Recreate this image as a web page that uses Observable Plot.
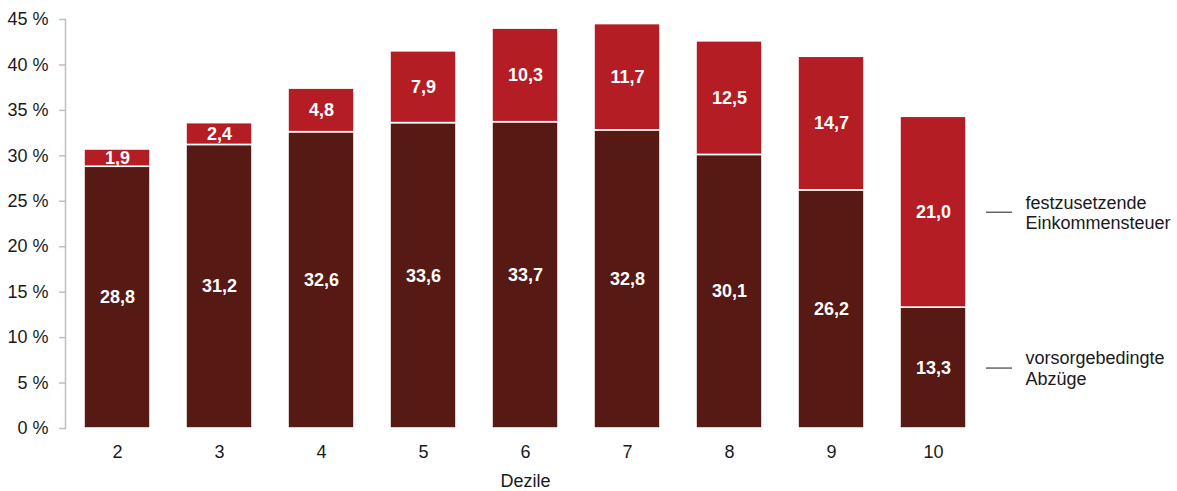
<!DOCTYPE html>
<html>
<head>
<meta charset="utf-8">
<script src="https://cdn.jsdelivr.net/npm/d3@7"></script>
<script src="https://cdn.jsdelivr.net/npm/@observablehq/plot@0.6"></script>
<style>
  html, body { margin: 0; padding: 0; background: #fff; }
  #chart svg { display: block; }
</style>
</head>
<body>
<div id="chart"></div>
<script>
const deciles = [2, 3, 4, 5, 6, 7, 8, 9, 10];
const vorsorge = [28.8, 31.2, 32.6, 33.6, 33.7, 32.8, 30.1, 26.2, 13.3];
const steuer = [1.9, 2.4, 4.8, 7.9, 10.3, 11.7, 12.5, 14.7, 21.0];
const seriesNames = ["vorsorgebedingte Abzüge", "festzusetzende Einkommensteuer"];
const legendLabels = ["vorsorgebedingte\nAbzüge", "festzusetzende\nEinkommensteuer"];
const yTicks = [0, 5, 10, 15, 20, 25, 30, 35, 40, 45];
const colors = ["#561913", "#b51d25"];

const rows = [];
deciles.forEach((d, i) => {
  rows.push({decile: d, series: seriesNames[0], value: vorsorge[i]});
  rows.push({decile: d, series: seriesNames[1], value: steuer[i]});
});

const last = deciles.length - 1;
const legendRows = [
  {decile: deciles[last], y: vorsorge[last] / 2, label: legendLabels[0]},
  {decile: deciles[last], y: vorsorge[last] + steuer[last] / 2, label: legendLabels[1]}
];

const fmt = v => v.toFixed(1).replace(".", ",");

const chart = Plot.plot({
  width: 1177,
  height: 491,
  marginLeft: 65,
  marginRight: 192,
  marginTop: 19,
  marginBottom: 63,
  style: {fontFamily: "'Liberation Sans', Arial, sans-serif", fontSize: "18px", color: "#1a1a1a", background: "#fff"},
  x: {domain: deciles, paddingInner: 0.35, paddingOuter: 0.175},
  y: {domain: [0, 45]},
  color: {domain: seriesNames, range: colors},
  marks: [
    Plot.frame({anchor: "left", stroke: "#bfbfbf", strokeWidth: 1.5}),
    Plot.axisY({ticks: yTicks, tickFormat: d => d + " %", tickSize: 6, tickPadding: 11, stroke: "#bfbfbf", strokeWidth: 1.5, strokeOpacity: 1, label: null, fontSize: 18, fill: "#1a1a1a"}),
    Plot.axisX({tickSize: 0, tickPadding: 17, label: "Dezile", labelAnchor: "center", labelArrow: "none", labelOffset: 58, fontSize: 18}),
    Plot.barY(rows, {x: "decile", y: "value", fill: "series", stroke: "white", strokeWidth: 1.6}),
    Plot.text(rows, Plot.stackY({x: "decile", y: "value", z: "series", text: d => fmt(d.value), fill: "white", fontWeight: "bold", fontSize: 18})),
    Plot.tickY(legendRows, {x: "decile", y: "y", dx: 86, insetRight: 40, stroke: "#1a1a1a", strokeWidth: 1}),
    Plot.text(legendRows, {x: "decile", y: "y", text: "label", dx: 92, textAnchor: "start", lineAnchor: "middle", lineHeight: 1.12, fill: "#1a1a1a", fontSize: 18})
  ]
});

document.getElementById("chart").appendChild(chart);
</script>
</body>
</html>
